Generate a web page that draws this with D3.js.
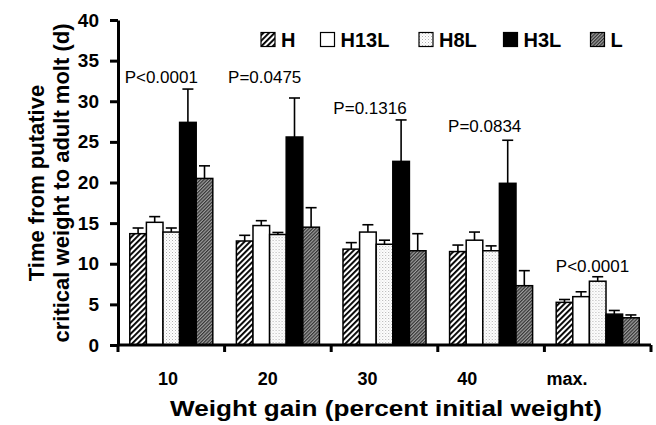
<!DOCTYPE html>
<html>
<head>
<meta charset="utf-8">
<script src="https://cdn.jsdelivr.net/npm/d3@7"></script>
<style>
  body { margin: 0; background: #fff; }
  text { font-family: "Liberation Sans", Arial, sans-serif; fill: #000; }
</style>
</head>
<body>
<svg id="chart" width="656" height="425"></svg>
<script>
// Data
const categories = ['10', '20', '30', '40', 'max.'];
const series = ['H', 'H13L', 'H8L', 'H3L', 'L'];
const yTicks = [0, 5, 10, 15, 20, 25, 30, 35, 40];

const meanH    = [13.7, 12.8, 11.8, 11.5, 5.25];
const meanH13L = [15.1, 14.7, 13.9, 12.9, 5.95];
const meanH8L  = [13.9, 13.6, 12.4, 11.6, 7.85];
const meanH3L  = [27.4, 25.6, 22.6, 19.9, 3.8];
const meanL    = [20.5, 14.5, 11.6, 7.3, 3.35];

const seH    = [0.7, 0.7, 0.8, 0.8, 0.35];
const seH13L = [0.7, 0.6, 0.9, 1.0, 0.6];
const seH8L  = [0.5, 0.25, 0.5, 0.6, 0.55];
const seH3L  = [4.1, 4.8, 5.1, 5.3, 0.45];
const seL    = [1.55, 2.4, 2.1, 1.85, 0.35];

const pLabels = ['P<0.0001', 'P=0.0475', 'P=0.1316', 'P=0.0834', 'P<0.0001'];
// annotation placement: baseline (in y units) and centre (fraction of the category band)
const pLabelY = [32.25, 32.25, 28.4, 26.25, 9.0];
const pLabelX = [0.406, 0.376, 0.364, 0.44, 0.451];

const means = { H: meanH, H13L: meanH13L, H8L: meanH8L, H3L: meanH3L, L: meanL };
const ses = { H: seH, H13L: seH13L, H8L: seH8L, H3L: seH3L, L: seL };

const svg = d3.select('#chart');
const defs = svg.append('defs');

// Fill patterns
const pH = defs.append('pattern').attr('id', 'pat-H')
  .attr('patternUnits', 'userSpaceOnUse').attr('width', 4).attr('height', 4)
  .attr('patternTransform', 'rotate(45)');
pH.append('rect').attr('width', 4).attr('height', 4).attr('fill', '#fff');
pH.append('rect').attr('width', 1.9).attr('height', 4).attr('fill', '#000');

const pH8 = defs.append('pattern').attr('id', 'pat-H8L')
  .attr('patternUnits', 'userSpaceOnUse').attr('width', 3).attr('height', 3);
pH8.append('rect').attr('width', 3).attr('height', 3).attr('fill', '#fff');
pH8.append('rect').attr('width', 1).attr('height', 1).attr('fill', '#b0b0b0');
pH8.append('rect').attr('x', 1.5).attr('y', 1.5).attr('width', 1).attr('height', 1).attr('fill', '#d0d0d0');

const pL = defs.append('pattern').attr('id', 'pat-L')
  .attr('patternUnits', 'userSpaceOnUse').attr('width', 2.4).attr('height', 2.4)
  .attr('patternTransform', 'rotate(45)');
pL.append('rect').attr('width', 2.4).attr('height', 2.4).attr('fill', '#a0a0a0');
pL.append('rect').attr('width', 1.2).attr('height', 2.4).attr('fill', '#333');

const fills = { H: 'url(#pat-H)', H13L: '#fff', H8L: 'url(#pat-H8L)', H3L: '#000', L: 'url(#pat-L)' };

// Scales
const x0 = d3.scaleBand().domain(categories).range([118, 651]);
const x1 = d3.scaleBand().domain(series).range([0, x0.bandwidth()]).paddingOuter(0.71);
const y = d3.scaleLinear().domain([0, 40]).range([345, 20]);
const xLabel = d3.scalePoint().domain(categories).range([168, 567]);

// Y axis
const yAxis = svg.append('g').attr('transform', 'translate(118,0)')
  .call(d3.axisLeft(y).tickValues(yTicks).tickSize(8).tickSizeOuter(0).tickPadding(11));
yAxis.select('.domain').attr('stroke-width', 3);
yAxis.selectAll('.tick line').attr('stroke-width', 3);
yAxis.selectAll('.tick text').attr('font-size', 19).attr('font-weight', 'bold')
  .attr('font-family', '"Liberation Sans", Arial, sans-serif');

// Bars
const groups = svg.append('g').selectAll('g').data(categories).join('g')
  .attr('transform', d => `translate(${x0(d)},0)`);

const rows = (c, i) => series.map(s => ({ s, v: means[s][i], e: ses[s][i] }));

groups.selectAll('rect').data(rows).join('rect')
  .attr('x', d => x1(d.s))
  .attr('y', d => y(d.v))
  .attr('width', x1.bandwidth())
  .attr('height', d => y(0) - y(d.v))
  .attr('fill', d => fills[d.s])
  .attr('stroke', '#000')
  .attr('stroke-width', 1.5);

// Error bars (upper only)
const eb = groups.selectAll('g.err').data(rows).join('g').attr('class', 'err')
  .attr('stroke', '#000').attr('stroke-width', 1.6);
eb.append('line')
  .attr('x1', d => x1(d.s) + x1.bandwidth() / 2).attr('x2', d => x1(d.s) + x1.bandwidth() / 2)
  .attr('y1', d => y(d.v)).attr('y2', d => y(d.v + d.e));
eb.append('line')
  .attr('x1', d => x1(d.s) + x1.bandwidth() / 2 - 5.5).attr('x2', d => x1(d.s) + x1.bandwidth() / 2 + 5.5)
  .attr('y1', d => y(d.v + d.e)).attr('y2', d => y(d.v + d.e));

// X axis
const xAxis = svg.append('g');
xAxis.append('line').attr('x1', x0.range()[0]).attr('x2', x0.range()[1])
  .attr('y1', y(0)).attr('y2', y(0)).attr('stroke', '#000').attr('stroke-width', 3);
const bounds = categories.map(c => x0(c)).concat([x0.range()[1]]);
xAxis.selectAll('line.tk').data(bounds).join('line').attr('class', 'tk')
  .attr('x1', d => d).attr('x2', d => d).attr('y1', y(0)).attr('y2', y(0) + 7)
  .attr('stroke', '#000').attr('stroke-width', 3);
xAxis.selectAll('text').data(categories).join('text')
  .attr('x', d => xLabel(d)).attr('y', 385)
  .attr('text-anchor', 'middle').attr('font-size', 18).attr('font-weight', 'bold')
  .text(d => d);

// P-value annotations
svg.append('g').selectAll('text').data(categories).join('text')
  .attr('x', (d, i) => x0(d) + pLabelX[i] * x0.bandwidth())
  .attr('y', (d, i) => y(pLabelY[i]))
  .attr('text-anchor', 'middle').attr('font-size', 17)
  .text((d, i) => pLabels[i]);

// Axis titles
svg.append('text').attr('x', 386).attr('y', 415.5).attr('text-anchor', 'middle')
  .attr('font-size', 22.5).attr('font-weight', 'bold')
  .attr('textLength', 432).attr('lengthAdjust', 'spacingAndGlyphs')
  .text('Weight gain (percent initial weight)');

const yt = svg.append('text').attr('transform', 'translate(0,183) rotate(-90)')
  .attr('text-anchor', 'middle').attr('font-size', 22).attr('font-weight', 'bold');
yt.append('tspan').attr('x', 0).attr('y', 44).text('Time from putative');
yt.append('tspan').attr('x', 0).attr('y', 69).text('critical weight to adult molt (d)');

// Legend
const legendX = [261, 320.5, 419, 503.5, 590.5];
const legend = svg.append('g').selectAll('g').data(series).join('g')
  .attr('transform', (d, i) => `translate(${legendX[i]},0)`);
legend.append('rect').attr('y', 32.5).attr('width', 14).attr('height', 14)
  .attr('fill', d => fills[d]).attr('stroke', '#000').attr('stroke-width', 1.2);
legend.append('text').attr('x', 20).attr('y', 47)
  .attr('font-size', 20).attr('font-weight', 'bold').text(d => d);
</script>
</body>
</html>
